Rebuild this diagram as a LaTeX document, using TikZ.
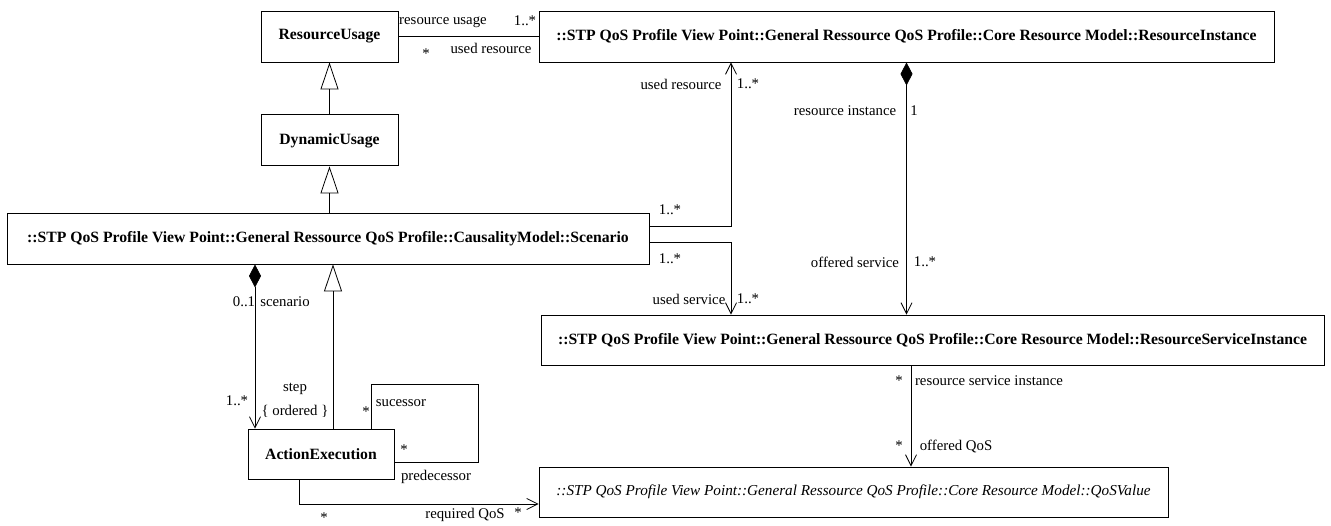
\documentclass[tikz,border=0pt]{standalone}
\usepackage{fontspec}
\setmainfont{Liberation Serif}
\usetikzlibrary{arrows.meta,positioning}

\begin{document}
\begin{tikzpicture}[
  x=1pt,y=-1pt,
  cls/.style={rectangle,draw=black,line width=0.9pt,fill=white,minimum height=51pt,inner sep=0pt,font=\fontsize{15.7}{18}\selectfont\bfseries},
  abscls/.style={cls,font=\fontsize{15.2}{18}\selectfont\itshape},
  lbl/.style={inner sep=0pt,font=\fontsize{14.8}{17}\selectfont},
  assoc/.style={line width=0.8pt},
  nav/.style={assoc,-{Straight Barb[length=11pt,width=11pt]}},
  inherit/.style={assoc,-{Triangle[open,length=27pt,width=18pt]}},
  comp/.style={assoc,{Diamond[length=23pt,width=12pt]}-{Straight Barb[length=11pt,width=11pt]}}
]
\useasboundingbox (0,0) rectangle (1331,525);
% classes
\node[cls,minimum width=137pt] (resusage) at (329.5,36.5) {ResourceUsage};
\node[cls,minimum width=137pt,below=52pt of resusage] (dynusage) {DynamicUsage};
\node[cls,minimum width=642pt] (scenario) at (328,238.5) {::STP QoS Profile View Point::General Ressource QoS Profile::CausalityModel::Scenario};
\node[cls,minimum width=146pt,minimum height=50pt] (actexec) at (321,454) {ActionExecution};
\node[cls,minimum width=735pt] (resinst) at (906.5,36.5) {::STP QoS Profile View Point::General Ressource QoS Profile::Core Resource Model::ResourceInstance};
\node[cls,minimum width=783pt,minimum height=50pt] (ressrv) at (932.5,340) {::STP QoS Profile View Point::General Ressource QoS Profile::Core Resource Model::ResourceServiceInstance};
\node[abscls,minimum width=629pt,minimum height=50pt] (qosval) at (853.5,492) {::STP QoS Profile View Point::General Ressource QoS Profile::Core Resource Model::QoSValue};
\coordinate (loop) at (478,384);
% connectors
\draw[assoc] (resusage) -- (resinst);
\draw[inherit] (dynusage) -- (resusage);
\draw[inherit] (scenario.north -| dynusage) -- (dynusage.south);
\draw[inherit] ([xshift=12pt]actexec.north) -- ([xshift=12pt]actexec.north |- scenario.south);
\draw[comp] ([xshift=-66pt]actexec.north |- scenario.south) -- ([xshift=-66pt]actexec.north);
\draw[assoc] ([xshift=50pt]actexec.north) |- (loop) |- ([yshift=-8pt]actexec.east);
\draw[nav] ([xshift=-22pt]actexec.south) |- ([yshift=-12pt]qosval.west);
\draw[nav] ([yshift=12.5pt]scenario.east) -| ([xshift=-175.5pt]resinst.south);
\draw[nav] ([yshift=-3.5pt]scenario.east) -| ([xshift=-201.5pt]ressrv.north);
\draw[comp] (resinst.south) -- (resinst.south |- ressrv.north);
\draw[nav] ([xshift=-21.5pt]ressrv.south) -- ([xshift=-21.5pt]ressrv.south |- qosval.north);
% role names and multiplicities
\node[lbl] (usagerole) at (443,22) {resource usage};
\node[lbl] (usagemult) at (525,21) {1..*};
\node[lbl] (usedresmult) at (426,54) {*};
\node[lbl] (usedresrole) at (491,48) {used resource};
\node[lbl] (scnresrole) at (681,84) {used resource};
\node[lbl] (scnresmult) at (748,84) {1..*};
\node[lbl] (instrole) at (845,111) {resource instance};
\node[lbl] (instmult) at (914,111) {1};
\node[lbl] (scnmulta) at (670,210) {1..*};
\node[lbl] (scnmultb) at (670,259) {1..*};
\node[lbl] (offsrvrole) at (855,262) {offered service};
\node[lbl] (offsrvmult) at (925,262) {1..*};
\node[lbl] (usedsrvrole) at (689,299) {used service};
\node[lbl] (usedsrvmult) at (748,299) {1..*};
\node[lbl] (scnmult) at (244,302) {0..1};
\node[lbl] (scnrole) at (285,302) {scenario};
\node[lbl] (stepmult) at (237,401) {1..*};
\node[lbl] (steprole) at (295,389) {step};
\node[lbl] (ordered) at (295,411) {\{ ordered \}};
\node[lbl] (sucmult) at (366,412) {*};
\node[lbl] (sucrole) at (401,403) {sucessor};
\node[lbl] (predmult) at (404,450) {*};
\node[lbl] (predrole) at (436,477) {predecessor};
\node[lbl] (actmult) at (324,518) {*};
\node[lbl] (reqrole) at (465,515) {required QoS};
\node[lbl] (reqmult) at (518,513) {*};
\node[lbl] (rsimult) at (899,381) {*};
\node[lbl] (rsirole) at (989,381) {resource service instance};
\node[lbl] (offqosmult) at (899,446) {*};
\node[lbl] (offqosrole) at (956,446) {offered QoS};
\end{tikzpicture}
\end{document}
